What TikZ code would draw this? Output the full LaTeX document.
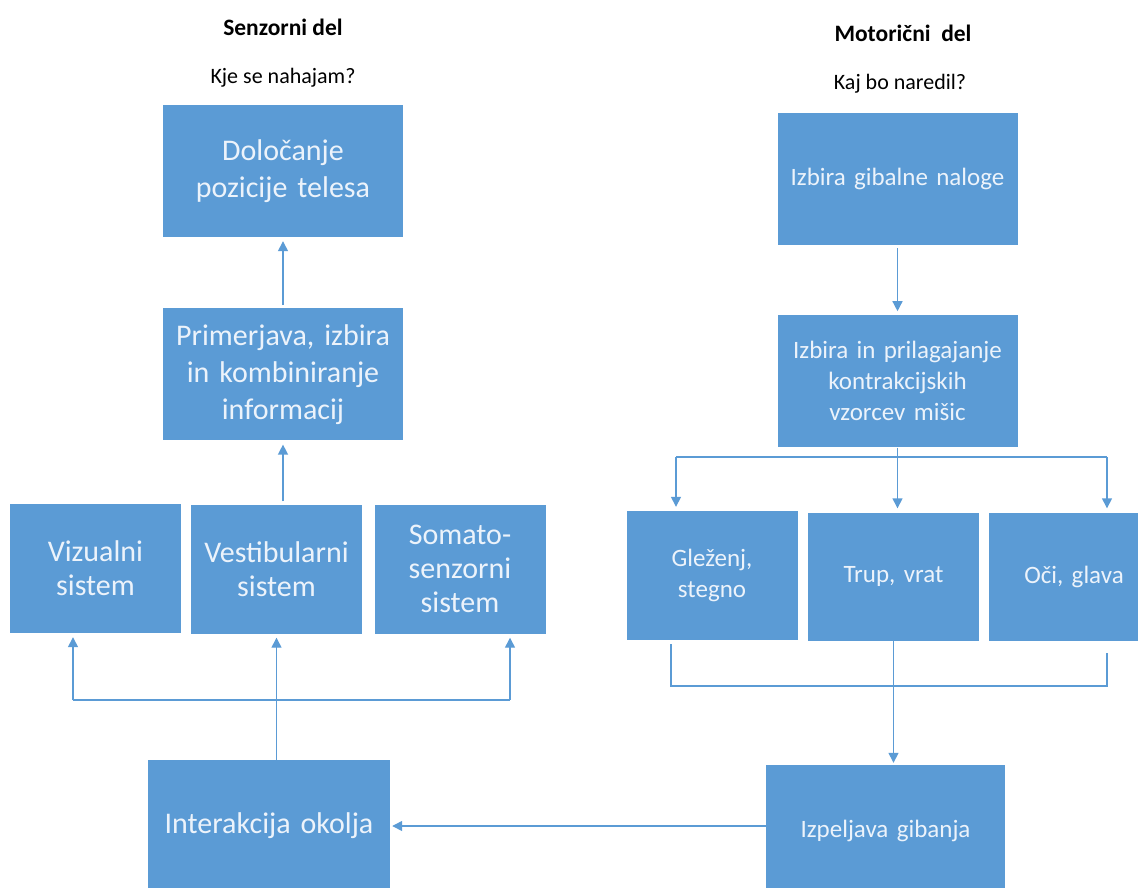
\documentclass[tikz,border=0pt]{standalone}
\usepackage{fontspec}
\setmainfont{Carlito}
\usepackage{tikz}
\usetikzlibrary{positioning, arrows.meta}
\definecolor{boxblue}{RGB}{91,155,213}
\definecolor{boxtext}{RGB}{236,243,251}
\tikzstyle{bigbox} = [rectangle, minimum width=240pt, minimum height=132pt, text width=225pt, align=center, fill=boxblue, text=boxtext, font=\fontsize{30}{37}\selectfont]
\tikzstyle{sensebox} = [rectangle, minimum width=171pt, minimum height=129pt, text width=160pt, align=center, fill=boxblue, text=boxtext, font=\fontsize{30}{34}\selectfont]
\tikzstyle{motorbox} = [rectangle, minimum width=240pt, minimum height=132pt, text width=225pt, align=center, fill=boxblue, text=boxtext, font=\fontsize{25}{31}\selectfont]
\tikzstyle{partbox} = [rectangle, minimum width=171pt, minimum height=128pt, text width=160pt, align=center, fill=boxblue, text=boxtext, font=\fontsize{25}{31}\selectfont]
\tikzstyle{heading} = [font=\bfseries\fontsize{23.5}{28}\selectfont]
\tikzstyle{question} = [font=\fontsize{22}{26}\selectfont]
\tikzstyle{arrow} = [line width=1.4pt, draw=boxblue, -{Triangle[length=10pt, width=10pt]}, shorten >=4pt, shorten <=3pt]
\tikzstyle{line} = [line width=1.4pt, draw=boxblue]

\begin{document}
\begin{tikzpicture}[x=1pt, y=-1pt]
        \useasboundingbox (0,0) rectangle (1138,887);
        \clip (0,0) rectangle (1138,887);

        % senzorni del
        \node (senzorni) [heading] at (283,27) {Senzorni del};
        \node (kje) [question] at (283,78) {Kje se nahajam?};
        \node (dolocanje) [bigbox] at (283,171) {Določanje\\pozicije telesa};
        \node (primerjava) [bigbox, below=71pt of dolocanje] {Primerjava, izbira\\in kombiniranje\\informacij};
        \node (vizualni) [sensebox] at (95.5,568.5) {Vizualni\\sistem};
        \node (vestibularni) [sensebox] at (276.5,569) {Vestibularni\\sistem};
        \node (somato) [sensebox] at (460,569) {Somato-\\senzorni\\sistem};
        \node (interakcija) [bigbox, minimum width=242pt] at (269,826) {Interakcija okolja};

        % motoricni del
        \node (motoricni) [heading] at (903,33) {Motorični~ del};
        \node (kaj) [question] at (900,84) {Kaj bo naredil?};
        \node (izbira) [motorbox] at (897.5,179) {Izbira gibalne naloge};
        \node (prilagajanje) [motorbox, below=70pt of izbira] {Izbira in prilagajanje\\kontrakcijskih\\vzorcev mišic};
        \node (glezenj) [partbox, minimum height=129pt] at (712,575.5) {Gleženj,\\stegno};
        \node (trup) [partbox] at (893.5,576.5) {Trup, vrat};
        \node (oci) [partbox] at (1074,576.5) {Oči, glava};
        \node (izpeljava) [motorbox, minimum width=239pt] at (885.5,831) {Izpeljava gibanja};

        \coordinate (sl) at (73,700);
        \coordinate (sr) at (510,700);
        \coordinate (ml) at (676,457);
        \coordinate (mr) at (1107,457);
        \coordinate (bl) at (671,686);
        \coordinate (br) at (1107,686);

        \draw [arrow] (primerjava) -- (dolocanje);
        \draw [arrow] (vestibularni.north -| primerjava) -- (primerjava.south);
        \draw [line] (sl) -- (sr);
        \draw [arrow, shorten <=0pt] (sl) -- (sl |- vizualni.south);
        \draw [arrow, shorten <=0pt] (sr) -- (sr |- somato.south);
        \draw [arrow, shorten <=0pt] (interakcija.north -| vestibularni) -- (vestibularni.south);

        \draw [arrow] (izbira) -- (prilagajanje);
        \draw [line] (ml) -- (mr);
        \draw [arrow, shorten <=0pt] (prilagajanje.south) -- (prilagajanje.south |- trup.north);
        \draw [arrow, shorten <=0pt] (ml) -- (ml |- glezenj.north);
        \draw [arrow, shorten <=0pt] (mr) -- (mr |- oci.north);
        \draw [line] ([yshift=-4pt]bl |- glezenj.south) -- (bl) -- (br) -- ([yshift=-12pt]br |- oci.south);
        \draw [arrow, shorten <=0pt, shorten >=2pt] (trup.south) -- (trup.south |- izpeljava.north);
        \draw [arrow, shorten <=0pt, shorten >=2pt] (izpeljava.west |- interakcija) -- (interakcija.east);
\end{tikzpicture}
\end{document}
